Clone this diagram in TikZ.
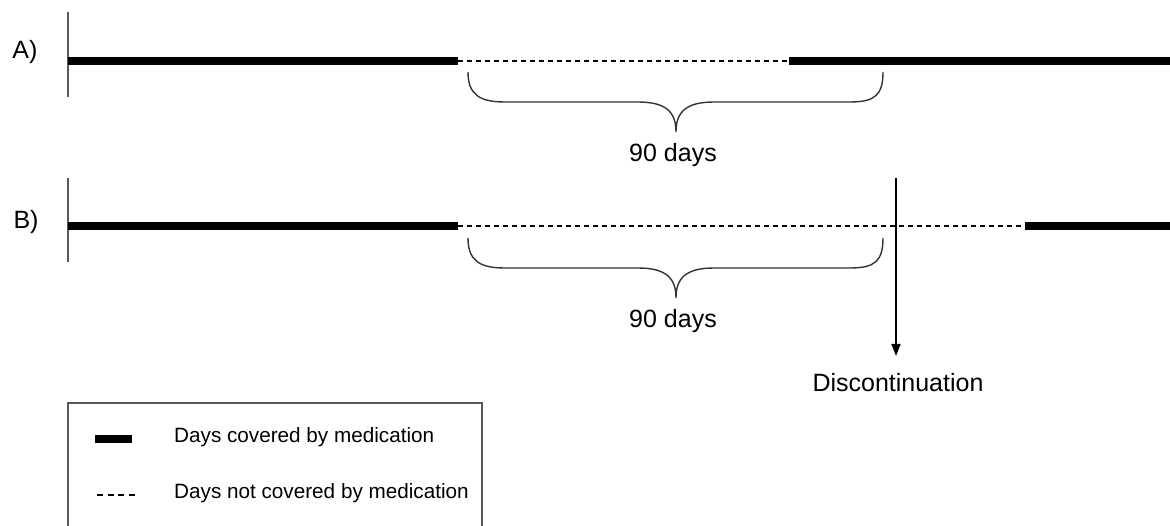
\documentclass[tikz,border=0pt]{standalone}
\usepackage{fontspec}
\setmainfont{Liberation Sans}
\usetikzlibrary{arrows.meta}
\begin{document}
\begin{tikzpicture}[x=1pt,y=-1pt,
  axisline/.style={draw=black!65,line width=1.5pt},
  covered/.style={line width=8pt,black},
  notcovered/.style={line width=1.2pt,black,dash pattern=on 5pt off 4pt},
  legdash/.style={line width=1.2pt,black,dash pattern=on 6pt off 4.7pt},
  bracepath/.style={line width=1.4pt,black!80},
  lbl/.style={font=\fontsize{25}{30}\selectfont,inner sep=0pt},
  leglbl/.style={font=\fontsize{20.7}{25}\selectfont,inner sep=0pt,anchor=west},
  legbox/.style={draw=black!65,line width=1.3pt}]
\useasboundingbox (0,0) rectangle (1170,526);
% ---- A ----
\coordinate (a0) at (68,61);
\coordinate (a1) at (458,61);
\coordinate (a2) at (789,61);
\coordinate (a3) at (1170,61);
\coordinate (aax1) at (68,12);
\coordinate (aax2) at (68,97);
\node[lbl] (la) at (25,52) {A)};
\draw[axisline] (aax1) -- (aax2);
\draw[covered] (a0) -- (a1);
\draw[notcovered] (a1) -- (a2);
\draw[covered] (a2) -- (a3);
\draw[bracepath] (468,72) .. controls (468,95) and (480,102) .. (505,102) -- (638,102)
  .. controls (666,102) and (676,112) .. (676,132)
  .. controls (676,112) and (686,102) .. (714,102) -- (850,102)
  .. controls (875,102) and (883,95) .. (883,72);
\node[lbl] (da) at (673,155) {90 days};
% ---- B ----
\coordinate (b0) at (68,226);
\coordinate (b1) at (458,226);
\coordinate (b2) at (1025,226);
\coordinate (b3) at (1170,226);
\coordinate (bax1) at (68,178);
\coordinate (bax2) at (68,262);
\node[lbl] (lb) at (26,222) {B)};
\draw[axisline] (bax1) -- (bax2);
\draw[covered] (b0) -- (b1);
\draw[notcovered] (b1) -- (b2);
\draw[covered] (b2) -- (b3);
\draw[bracepath] (468,238) .. controls (468,261) and (480,268) .. (505,268) -- (638,268)
  .. controls (666,268) and (676,278) .. (676,298)
  .. controls (676,278) and (686,268) .. (714,268) -- (850,268)
  .. controls (875,268) and (883,261) .. (883,238);
\node[lbl] (db) at (673,321) {90 days};
% ---- Discontinuation ----
\coordinate (dtop) at (896,178);
\node[lbl] (disc) at (898,383) {Discontinuation};
\draw[line width=1.5pt,-{Triangle[length=12pt,width=9pt]}] (dtop) -- (896,356);
% ---- Legend ----
\draw[legbox] (68,540) -- (68,403) -- (482,403) -- (482,540);
\coordinate (l1a) at (95,439);
\coordinate (l1b) at (132,439);
\coordinate (l2a) at (97,495);
\coordinate (l2b) at (135,495);
\draw[covered] (l1a) -- (l1b);
\draw[legdash] (l2a) -- (l2b);
\node[leglbl] (t1) at (174,437) {Days covered by medication};
\node[leglbl] (t2) at (174,493) {Days not covered by medication};
\end{tikzpicture}
\end{document}
